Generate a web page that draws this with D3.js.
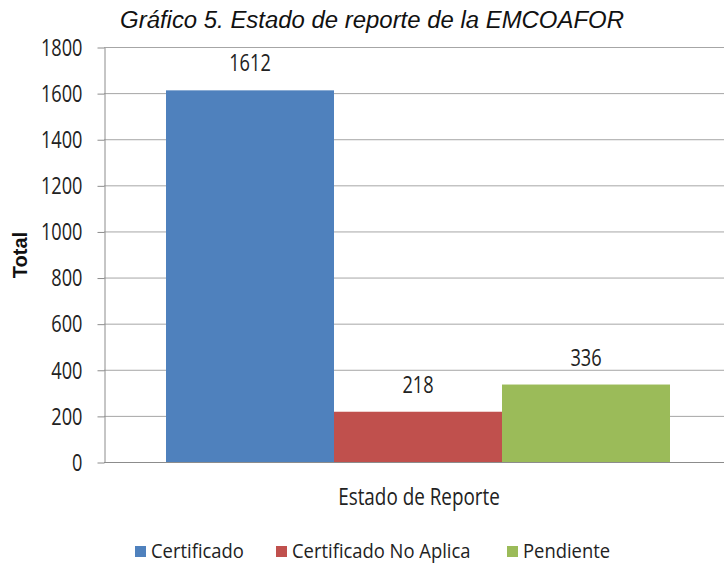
<!DOCTYPE html>
<html>
<head>
<meta charset="utf-8">
<script src="https://cdn.jsdelivr.net/npm/d3@7"></script>
<style>
  body { margin: 0; background: #fff; }
  .tick text, .lbl, .leg text, .xtitle { font-family: "Open Sans", sans-serif; }
</style>
</head>
<body>
<div id="viz"></div>
<script>
var width = 724, height = 564;
var margin = {top: 47, left: 104, bottom: 102, right: -8};

var series = ['Certificado', 'Certificado No Aplica', 'Pendiente'];
var values = [1612, 218, 336];
var colors = ['#4f81bd', '#c0504d', '#9bbb59'];
var yTicks = [0, 200, 400, 600, 800, 1000, 1200, 1400, 1600, 1800];

// squeeze text horizontally, the original font is a narrow one
function narrow(sel, k) {
  sel.each(function() {
    var w = this.getComputedTextLength();
    d3.select(this)
      .attr('textLength', w * k)
      .attr('lengthAdjust', 'spacingAndGlyphs');
  });
}

var svg = d3.select('#viz').append('svg')
  .attr('width', width)
  .attr('height', height);

var y = d3.scaleLinear()
  .domain([0, 1800])
  .range([height - margin.bottom, margin.top]);

var x = d3.scaleBand()
  .domain(series)
  .range([166, 670])
  .padding(0);

// gridlines
svg.append('g')
  .selectAll('line')
  .data(yTicks)
  .join('line')
  .attr('x1', margin.left)
  .attr('x2', width - margin.right)
  .attr('y1', d => y(d) + 0.5)
  .attr('y2', d => y(d) + 0.5)
  .attr('stroke', '#a6a6a6')
  .attr('stroke-width', 1);

// y axis
var yAxis = svg.append('g')
  .attr('transform', 'translate(' + (margin.left + 0.5) + ',0.5)')
  .call(d3.axisLeft(y).tickValues(yTicks).tickFormat(d3.format('d')).tickSize(7).tickSizeOuter(0));
yAxis.select('.domain').attr('stroke', '#8c8c8c');
yAxis.selectAll('.tick line').attr('stroke', '#8c8c8c');
yAxis.selectAll('.tick text')
  .attr('x', -22)
  .attr('dy', '0.34em')
  .attr('font-size', 23)
  .attr('fill', '#222')
  .call(narrow, 0.79);

// bars
svg.append('g')
  .selectAll('rect')
  .data(values)
  .join('rect')
  .attr('x', (d, i) => x(series[i]))
  .attr('width', x.bandwidth())
  .attr('y', d => y(d))
  .attr('height', d => y(0) - y(d))
  .attr('fill', (d, i) => colors[i]);

// value labels
svg.append('g')
  .selectAll('text')
  .data(values)
  .join('text')
  .attr('class', 'lbl')
  .attr('x', (d, i) => x(series[i]) + x.bandwidth() / 2)
  .attr('y', d => y(d) - 19)
  .attr('text-anchor', 'middle')
  .attr('font-size', 23)
  .attr('fill', '#222')
  .text(d => d)
  .call(narrow, 0.79);

// x axis line
svg.append('line')
  .attr('x1', margin.left)
  .attr('x2', width)
  .attr('y1', y(0) + 0.5)
  .attr('y2', y(0) + 0.5)
  .attr('stroke', '#8c8c8c');

// title
svg.append('text')
  .attr('x', 372)
  .attr('y', 28)
  .attr('text-anchor', 'middle')
  .attr('font-family', 'Arial, "Liberation Sans", sans-serif')
  .attr('font-style', 'italic')
  .attr('font-size', 23)
  .attr('fill', '#111')
  .text('Gráfico 5. Estado de reporte de la EMCOAFOR')
  .call(narrow, 1.04);

// y title
svg.append('text')
  .attr('transform', 'translate(27,255) rotate(-90)')
  .attr('text-anchor', 'middle')
  .attr('font-family', 'Arial, "Liberation Sans", sans-serif')
  .attr('font-weight', 'bold')
  .attr('font-size', 20)
  .attr('fill', '#111')
  .text('Total');

// x title
svg.append('text')
  .attr('class', 'xtitle')
  .attr('x', 419)
  .attr('y', 505)
  .attr('text-anchor', 'middle')
  .attr('font-size', 23)
  .attr('fill', '#222')
  .text('Estado de Reporte')
  .call(narrow, 0.82);

// legend
var legX = [135, 276, 507];
var leg = svg.append('g').attr('class', 'leg');
leg.selectAll('rect')
  .data(series)
  .join('rect')
  .attr('x', (d, i) => legX[i])
  .attr('y', 546)
  .attr('width', 11)
  .attr('height', 11)
  .attr('fill', (d, i) => colors[i]);
leg.selectAll('text')
  .data(series)
  .join('text')
  .attr('x', (d, i) => legX[i] + 16)
  .attr('y', 558)
  .attr('font-size', 20)
  .attr('fill', '#222')
  .text(d => d)
  .call(narrow, 0.92);
</script>
</body>
</html>
